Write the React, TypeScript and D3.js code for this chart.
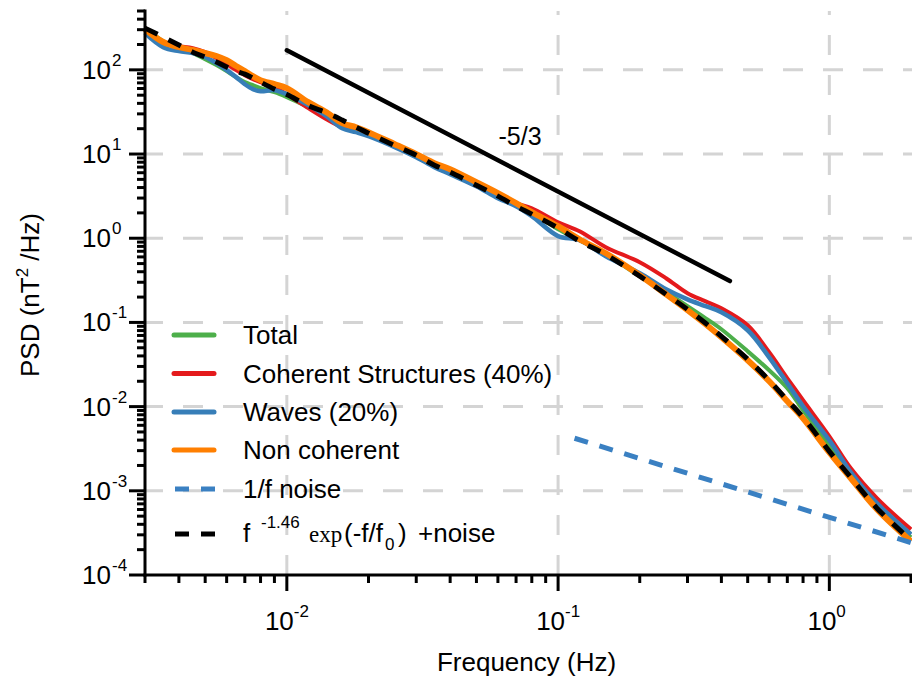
import React, { useEffect, useRef } from "react";
import * as d3 from "d3";

const freq = [
  0.003, 0.0035, 0.004, 0.0045, 0.005, 0.0055, 0.006, 0.0065, 0.007, 0.0075, 0.008, 0.009,
  0.01, 0.012, 0.014, 0.016, 0.018, 0.02, 0.025, 0.03, 0.035, 0.04, 0.05, 0.06, 0.07, 0.08,
  0.1, 0.12, 0.15, 0.2, 0.25, 0.3, 0.35, 0.4, 0.5, 0.6, 0.7, 0.8, 1.0, 1.2, 1.5, 2.0,
];

const totalPsd = [
  313, 219, 181, 158, 134, 114, 96.5, 81.9, 71.4, 65.8, 60.6, 54.3, 47.4, 36.1, 28.9, 22.6,
  19.7, 17.2, 12.4, 9.43, 7.37, 6.09, 4.26, 3.16, 2.47, 1.98, 1.28, 0.947, 0.645, 0.354,
  0.228, 0.156, 0.112, 0.0829, 0.0454, 0.027, 0.0165, 0.00904, 0.00347, 0.00157, 0.000653,
  0.00028,
];

const coherentPsd = [
  297, 208, 191, 181, 162, 138, 117, 99.2, 86.5, 77.6, 71.4, 62.3, 51.4, 35.1, 25.9, 20.8,
  18.7, 16.7, 12.4, 9.43, 7.37, 6.09, 4.15, 3.24, 2.61, 2.27, 1.55, 1.21, 0.782, 0.519,
  0.335, 0.222, 0.178, 0.147, 0.0925, 0.0442, 0.0217, 0.0119, 0.00444, 0.00185, 0.000813,
  0.000348,
];

const wavesPsd = [
  273, 186, 167, 158, 142, 120, 99.2, 81.9, 67.6, 59.0, 55.8, 57.4, 51.4, 38.1, 28.2, 20.3,
  18.2, 16.3, 12.1, 9.18, 6.98, 5.76, 4.15, 2.99, 2.4, 1.83, 1.06, 0.947, 0.611, 0.384,
  0.248, 0.188, 0.156, 0.132, 0.0807, 0.0385, 0.0189, 0.0101, 0.00398, 0.00166, 0.000709,
  0.000304,
];

const nonCoherentPsd = [
  305, 214, 186, 172, 158, 146, 130, 111, 96.5, 84.2, 75.4, 67.6, 60.6, 41.3, 31.4, 23.3,
  20.8, 18.2, 13.1, 9.96, 7.79, 6.61, 4.63, 3.43, 2.61, 2.04, 1.39, 0.973, 0.663, 0.363,
  0.216, 0.14, 0.0951, 0.0666, 0.0355, 0.02, 0.0116, 0.00726, 0.00286, 0.00141, 0.000602,
  0.000251,
];

const fitPsd = [
  313, 245, 197, 162, 142, 124, 108, 96.5, 88.9, 79.7, 71.4, 59.0, 51.0, 37.5, 31.0, 25.3,
  20.8, 17.7, 12.6, 9.69, 7.37, 6.09, 4.26, 3.16, 2.4, 1.93, 1.32, 0.921, 0.637, 0.354,
  0.216, 0.143, 0.0977, 0.0684, 0.0365, 0.0205, 0.0119, 0.00746, 0.00294, 0.00144,
  0.000618, 0.000258,
];

// 1/f noise and -5/3 guide line (end points)
const noiseFreq = [0.115, 2];
const noisePsd = [0.00421, 0.000242];
const slopeFreq = [0.01, 0.43];
const slopePsd = [171, 0.31];

const yExponents = [-4, -3, -2, -1, 0, 1, 2];
const xExponents = [-2, -1, 0];

const legendLabels = [
  "Total",
  "Coherent Structures (40%)",
  "Waves (20%)",
  "Non coherent",
  "1/f noise",
];

const W = 912;
const H = 682;
const FONT = "'Liberation Sans', Arial, Helvetica, sans-serif";

const App = () => {
  const ref = useRef<SVGSVGElement>(null);

  useEffect(() => {
    const svg = d3.select(ref.current);
    svg.selectAll("*").remove();

    const left = 145;
    const bottom = 575;
    const x = d3.scaleLog().domain([0.003, 2]).range([left, 911]);
    const y = d3.scaleLog().domain([1e-4, 500]).range([bottom, 11]);

    // grid
    const grid = svg
      .append("g")
      .attr("stroke", "#d4d4d4")
      .attr("stroke-width", 3)
      .attr("stroke-dasharray", "20,20");
    yExponents.slice(1).forEach(e => {
      grid.append("line")
        .attr("x1", 143).attr("x2", W)
        .attr("y1", y(10 ** e)).attr("y2", y(10 ** e));
    });
    xExponents.forEach(e => {
      grid.append("line")
        .attr("x1", x(10 ** e)).attr("x2", x(10 ** e))
        .attr("y1", bottom).attr("y2", 11);
    });

    const line = d3
      .line<number>()
      .x((_, i) => x(freq[i]))
      .y(d => y(d))
      .curve(d3.curveCatmullRom.alpha(0.5));

    const series = [
      { values: totalPsd, color: "#4daf4a", width: 4 },
      { values: coherentPsd, color: "#e41a1c", width: 4 },
      { values: wavesPsd, color: "#377eb8", width: 4.5 },
      { values: nonCoherentPsd, color: "#ff7f00", width: 6 },
    ];

    series.forEach(s => {
      svg.append("path")
        .attr("d", line(s.values))
        .attr("fill", "none")
        .attr("stroke", s.color)
        .attr("stroke-width", s.width);
    });

    // 1/f noise
    const pairLine = d3.line<number>().x((_, i) => x(noiseFreq[i])).y(d => y(d));
    svg.append("path")
      .attr("d", pairLine(noisePsd))
      .attr("fill", "none")
      .attr("stroke", "#3a80c2")
      .attr("stroke-width", 5)
      .attr("stroke-dasharray", "14,12");

    // fit
    svg.append("path")
      .attr("d", line(fitPsd))
      .attr("fill", "none")
      .attr("stroke", "#000")
      .attr("stroke-width", 5)
      .attr("stroke-dasharray", "14,12");

    // -5/3 guide
    const slopeLine = d3.line<number>().x((_, i) => x(slopeFreq[i])).y(d => y(d));
    svg.append("path")
      .attr("d", slopeLine(slopePsd))
      .attr("fill", "none")
      .attr("stroke", "#000")
      .attr("stroke-width", 4.5)
      .attr("stroke-linecap", "round");
    svg.append("text")
      .attr("x", 520).attr("y", 145)
      .attr("text-anchor", "middle")
      .attr("font-family", FONT).attr("font-size", 25)
      .text("-5/3");

    // axes
    const axes = svg.append("g").attr("stroke", "#000");
    axes.append("line").attr("x1", left).attr("x2", left).attr("y1", 9.5).attr("y2", bottom + 1.5).attr("stroke-width", 3);
    axes.append("line").attr("x1", left - 1.5).attr("x2", W).attr("y1", bottom).attr("y2", bottom).attr("stroke-width", 3);

    const yTicks: number[] = [];
    for (let e = -4; e <= 2; e++) {
      for (let m = 1; m <= 9; m++) {
        const v = m * 10 ** e;
        if (v <= 500.0001) yTicks.push(v);
      }
    }
    yTicks.forEach(v => {
      const major = Math.abs(Math.log10(v) - Math.round(Math.log10(v))) < 1e-6;
      axes.append("line")
        .attr("x1", left).attr("x2", left - (major ? 16 : 8))
        .attr("y1", y(v)).attr("y2", y(v))
        .attr("stroke-width", 3);
    });

    const xTicks: number[] = [];
    for (let e = -3; e <= 0; e++) {
      for (let m = 1; m <= 9; m++) {
        const v = m * 10 ** e;
        if (v >= 0.003 - 1e-9 && v <= 2.0001) xTicks.push(v);
      }
    }
    xTicks.forEach(v => {
      const major = Math.abs(Math.log10(v) - Math.round(Math.log10(v))) < 1e-6;
      axes.append("line")
        .attr("x1", x(v)).attr("x2", x(v))
        .attr("y1", bottom).attr("y2", bottom + (major ? 16 : 8))
        .attr("stroke-width", 3);
    });

    // tick labels
    yExponents.forEach(e => {
      svg.append("text")
        .attr("x", 111).attr("y", y(10 ** e) + 9)
        .attr("text-anchor", "end")
        .attr("font-family", FONT).attr("font-size", 26)
        .text("10");
      svg.append("text")
        .attr("x", 112).attr("y", y(10 ** e) - 4)
        .attr("font-family", FONT).attr("font-size", 17)
        .text(String(e));
    });
    xExponents.forEach(e => {
      const cx = x(10 ** e);
      svg.append("text")
        .attr("x", cx + 7).attr("y", 630)
        .attr("text-anchor", "end")
        .attr("font-family", FONT).attr("font-size", 26)
        .text("10");
      svg.append("text")
        .attr("x", cx + 7).attr("y", 617)
        .attr("font-family", FONT).attr("font-size", 17)
        .text(String(e));
    });

    // axis titles
    svg.append("text")
      .attr("x", (left + W) / 2 - 2).attr("y", 671)
      .attr("text-anchor", "middle")
      .attr("font-family", FONT).attr("font-size", 26)
      .text("Frequency (Hz)");

    const yt = svg.append("text")
      .attr("transform", "translate(39,295) rotate(-90)")
      .attr("text-anchor", "middle")
      .attr("font-family", FONT).attr("font-size", 26);
    yt.append("tspan").text("PSD (nT");
    yt.append("tspan").attr("font-size", 17).attr("dy", -11).text("2");
    yt.append("tspan").attr("dy", 11).text(" /Hz)");

    // legend
    const rows = [335, 373.5, 412, 450, 489];
    const legendStyles = [
      { color: "#4daf4a", dash: null },
      { color: "#e41a1c", dash: null },
      { color: "#377eb8", dash: null },
      { color: "#ff7f00", dash: null },
      { color: "#3a80c2", dash: "14,12" },
    ];
    legendLabels.forEach((label, i) => {
      const st = legendStyles[i];
      svg.append("line")
        .attr("x1", st.dash ? 175 : 174).attr("x2", st.dash ? 215 : 214)
        .attr("y1", rows[i]).attr("y2", rows[i])
        .attr("stroke", st.color)
        .attr("stroke-width", 5)
        .attr("stroke-linecap", st.dash ? "butt" : "round")
        .attr("stroke-dasharray", st.dash);
      svg.append("text")
        .attr("x", 243).attr("y", rows[i] + 9)
        .attr("font-family", FONT).attr("font-size", 26)
        .text(label);
    });

    const fitRow = 534;
    svg.append("line")
      .attr("x1", 175).attr("x2", 215)
      .attr("y1", fitRow).attr("y2", fitRow)
      .attr("stroke", "#000").attr("stroke-width", 5)
      .attr("stroke-dasharray", "14,12");
    const fitLabel = [
      { t: "f", x: 243, y: 542, size: 26, serif: false },
      { t: "-1.46", x: 261, y: 528, size: 17, serif: false },
      { t: "exp", x: 309, y: 542, size: 23, serif: true },
      { t: "(-f/f", x: 344, y: 542, size: 26, serif: false },
      { t: "0", x: 385, y: 550, size: 17, serif: false },
      { t: ")", x: 398, y: 542, size: 26, serif: false },
      { t: "+noise", x: 418, y: 542, size: 26, serif: false },
    ];
    fitLabel.forEach(p => {
      svg.append("text")
        .attr("x", p.x).attr("y", p.y)
        .attr("font-family", p.serif ? "'Liberation Serif', 'DejaVu Serif', serif" : FONT)
        .attr("font-size", p.size)
        .text(p.t);
    });
  }, []);

  return (
    <svg
      ref={ref}
      width={W}
      height={H}
      style={{ position: "absolute", left: 0, top: 0, background: "#fff" }}
    />
  );
};

export default App;
